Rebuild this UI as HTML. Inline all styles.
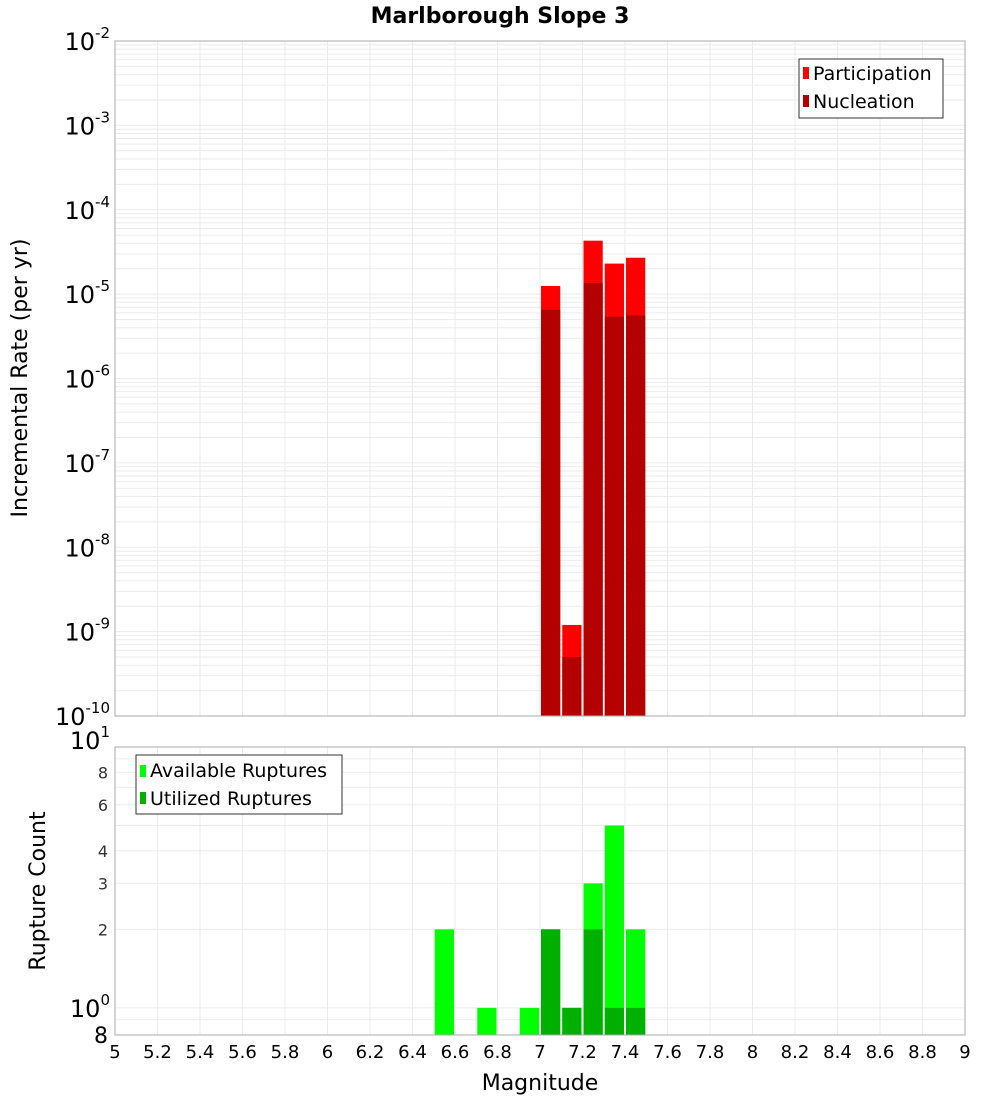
<!DOCTYPE html>
<html><head><meta charset="utf-8"><style>
body{margin:0;background:#fff}
svg{display:block;font-family:"DejaVu Sans","Liberation Sans",sans-serif}
</style></head><body>
<svg id="chart" width="1000" height="1100" xmlns="http://www.w3.org/2000/svg">
<rect width="1000" height="1100" fill="#fff"/>
<text x="500" y="23" text-anchor="middle" font-size="22" font-weight="bold">Marlborough Slope 3</text>
<g id="topg"></g><g id="botg"></g>
<text transform="translate(27,378) rotate(-90)" text-anchor="middle" font-size="22">Incremental Rate (per yr)</text>
<text transform="translate(45,891) rotate(-90)" text-anchor="middle" font-size="22">Rupture Count</text>
<text x="540" y="1090" text-anchor="middle" font-size="22">Magnitude</text>
<g>
<rect x="799" y="59" width="144" height="59" fill="#fff" stroke="#333"/>
<rect x="803" y="67" width="6" height="12" fill="#ff0000"/>
<text x="813" y="80" font-size="19">Participation</text>
<rect x="803" y="95" width="6" height="12" fill="#b30000"/>
<text x="813" y="108" font-size="19">Nucleation</text>
</g>
<g>
<rect x="136" y="755" width="206" height="59" fill="#fff" stroke="#333"/>
<rect x="140" y="765" width="6" height="12" fill="#00ff00"/>
<text x="150" y="777" font-size="19">Available Ruptures</text>
<rect x="140" y="792" width="6" height="12" fill="#00b000"/>
<text x="150" y="805" font-size="19">Utilized Ruptures</text>
</g>
</svg>
<script>
const mags=[7.05,7.15,7.25,7.35,7.45];
const participation=[1.25e-5,1.2e-9,4.3e-5,2.3e-5,2.7e-5];
const nucleation=[6.5e-6,5e-10,1.35e-5,5.4e-6,5.6e-6];
const countMags=[6.55,6.75,6.95,7.05,7.15,7.25,7.35,7.45];
const available=[2,1,1,2,1,3,5,2];
const utilized=[0,0,0,2,1,2,1,1];
const xTicks=[5,5.2,5.4,5.6,5.8,6,6.2,6.4,6.6,6.8,7,7.2,7.4,7.6,7.8,8,8.2,8.4,8.6,8.8,9];
const topDecades=[-2,-3,-4,-5,-6,-7,-8,-9,-10];
const botTicks=[2,3,4,6,8];

const NS="http://www.w3.org/2000/svg";
const L=115,R=965;
const X=m=>L+(m-5)/4*(R-L);
const T0=41,T1=716;
const YT=v=>T0+(-2-Math.log10(v))/8*(T1-T0);
const B0=747,B1=1035,BMIN=Math.log10(0.787),BMAX=1;
const YB=v=>B0+(BMAX-Math.log10(v))/(BMAX-BMIN)*(B1-B0);
function el(p,t,a){const e=document.createElementNS(NS,t);for(const k in a)e.setAttribute(k,a[k]);p.appendChild(e);return e;}
const topG=document.getElementById('topg'),botG=document.getElementById('botg');

for(let d=-10;d<-2;d++)for(let k=1;k<10;k++){const y=YT(k*Math.pow(10,d));
 const g=el(topG,'line',{x1:L,x2:R,y1:y,y2:y,stroke:'#ebebeb','stroke-width':1});
 
 }
for(const t of xTicks){
 const g1=el(topG,'line',{x1:X(t),x2:X(t),y1:T0,y2:T1,stroke:'#ebebeb'});
 
 
 const g2=el(botG,'line',{x1:X(t),x2:X(t),y1:B0,y2:B1,stroke:'#ebebeb'});
 
 
}
for(let k=1;k<=10;k++){const y=YB(k);
 const g=el(botG,'line',{x1:L,x2:R,y1:y,y2:y,stroke:'#ebebeb'});
 
 }
{const y=YB(0.9);const g=el(botG,'line',{x1:L,x2:R,y1:y,y2:y,stroke:'#ebebeb'});
 
 }

mags.forEach((m,i)=>{
 const x0=X(m-0.05)+1,w=X(m+0.05)-X(m-0.05)-2;
 const b=el(topG,'rect',{x:x0,y:YT(participation[i]),width:w,height:T1-YT(participation[i]),fill:'#ff0000'});
 
 
 const n=el(topG,'rect',{x:x0,y:YT(nucleation[i]),width:w,height:T1-YT(nucleation[i]),fill:'#b30000'});
 
 
});
countMags.forEach((m,i)=>{
 const x0=X(m-0.05)+1,w=X(m+0.05)-X(m-0.05)-2;
 const b=el(botG,'rect',{x:x0,y:YB(available[i]),width:w,height:B1-YB(available[i]),fill:'#00ff00'});
 
 
 if(utilized[i]>0){const n=el(botG,'rect',{x:x0,y:YB(utilized[i]),width:w,height:B1-YB(utilized[i]),fill:'#00b000'});
 
 }
});
const f1=el(topG,'rect',{x:L,y:T0,width:R-L,height:T1-T0,fill:'none',stroke:'#aaa'});


const f2=el(botG,'rect',{x:L,y:B0,width:R-L,height:B1-B0,fill:'none',stroke:'#aaa'});



function pow(p,x,y,e,name){
 const t=el(p,'text',{x:x,y:y,'text-anchor':'end','font-size':24});
 
 
 t.appendChild(document.createTextNode('10'));
 const s=el(t,'tspan',{dy:-12,'font-size':15});s.textContent=e;
}
for(const d of topDecades){pow(topG,110,YT(Math.pow(10,d))+9,d,'y-tick-label');}
pow(botG,110,YB(10)+2,'1','y-tick-label');
pow(botG,110,YB(1)+9,'0','y-tick-label');
for(const v of botTicks){const t=el(botG,'text',{x:108,y:YB(v)+6,'text-anchor':'end','font-size':16,fill:'#333'});
 
 
 t.textContent=v;}
{const t=el(botG,'text',{x:108,y:1043,'text-anchor':'end','font-size':22});
 
 
 t.textContent='8';}
for(const v of xTicks){const t=el(botG,'text',{x:X(v),y:1058,'text-anchor':'middle','font-size':18});
 
 
 t.textContent=String(v);}
</script>
</body></html>
